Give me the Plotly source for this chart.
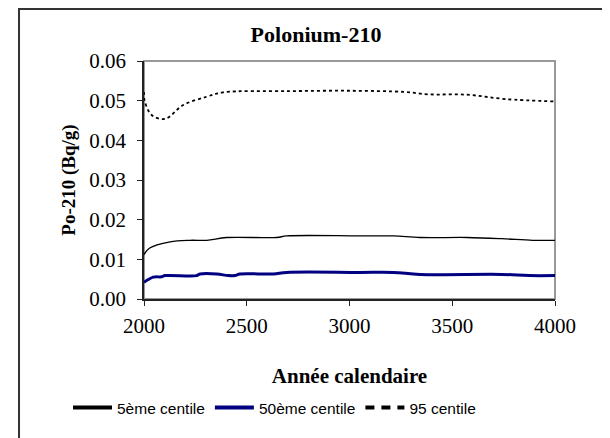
import plotly.graph_objects as go

# ── Data ──────────────────────────────────────────────────────────────────────
YEARS_P5 = [2000, 2026, 2127, 2224, 2305, 2402, 2646, 2694, 3051, 3213, 3343,
            3571, 3741, 3892, 4000]
P5 = [0.0112, 0.0128, 0.0144, 0.0148, 0.0148, 0.0155, 0.0155, 0.0159, 0.0159,
      0.0159, 0.0155, 0.0155, 0.0152, 0.0148, 0.0148]

YEARS_P50 = [2000, 2045, 2086, 2102, 2256, 2272, 2354, 2410, 2443, 2467, 2629,
             2694, 3051, 3213, 3343, 3741, 3873, 4000]
P50 = [0.0042, 0.0055, 0.0056, 0.0059, 0.0059, 0.0063, 0.0063, 0.0059, 0.0059,
       0.0063, 0.0063, 0.0067, 0.0067, 0.0067, 0.0062, 0.0062, 0.0059, 0.0059]

YEARS_P95 = [2000, 2003, 2037, 2102, 2191, 2305, 2385, 2700, 3002, 3269, 3382,
             3571, 3760, 4000]
P95 = [0.0522, 0.0500, 0.0464, 0.0454, 0.0489, 0.0510, 0.0521, 0.0524, 0.0525,
       0.0522, 0.0516, 0.0515, 0.0504, 0.0498]

NAMES = ['5ème centile', '50ème centile', '95 centile']
X_TICKS = [2000, 2500, 3000, 3500, 4000]
Y_TICKS = [0.00, 0.01, 0.02, 0.03, 0.04, 0.05, 0.06]

SERIF = 'Liberation Serif'
SANS = 'Liberation Sans'
NAVY = '#000080'

fig = go.Figure()

series = [
    (YEARS_P5, P5, NAMES[0], dict(color='black', width=1.3)),
    (YEARS_P50, P50, NAMES[1], dict(color=NAVY, width=3)),
    (YEARS_P95, P95, NAMES[2], dict(color='black', width=1.8, dash='3px,3px')),
]
for xs, ys, name, line in series:
    fig.add_trace(go.Scatter(x=xs, y=ys, mode='lines', name=name, line=line,
                             line_shape='spline', legendgroup=name,
                             showlegend=False))

# legend entries drawn with the thicker Excel-style swatches
legend_lines = [dict(color='black', width=4), dict(color=NAVY, width=4),
                dict(color='black', width=4, dash='9px,7px')]
for name, line in zip(NAMES, legend_lines):
    fig.add_trace(go.Scatter(x=[None], y=[None], mode='lines', name=name,
                             line=line, legendgroup=name))

# chart-area frame (left/top visible) and grey plot-area border
fig.add_shape(type='rect', xref='paper', yref='paper',
              x0=-0.3041, x1=1.2, y0=-0.7, y1=1.2185,
              line=dict(color='#333333', width=2), layer='below')
fig.add_shape(type='rect', xref='paper', yref='paper',
              x0=0, x1=1, y0=0, y1=1,
              line=dict(color='#999999', width=2), layer='below')

fig.update_layout(
    width=610, height=438,
    margin=dict(l=136, r=63, t=53, b=147, autoexpand=False),
    paper_bgcolor='white', plot_bgcolor='white',
    font=dict(family=SERIF, color='black'),
    title=dict(text='<b>Polonium-210</b>', xref='container', yref='container',
               x=308 / 610, y=1 - 26 / 438, xanchor='center', yanchor='middle',
               font=dict(family=SERIF, size=22, color='black')),
    legend=dict(orientation='h', xref='paper', yref='paper',
                x=-76 / 411, y=-109 / 238, xanchor='left', yanchor='middle',
                font=dict(family=SANS, size=15.5, color='black'),
                itemwidth=39, tracegroupgap=0,
                bgcolor='rgba(0,0,0,0)'),
    xaxis=dict(range=[2000, 4000], tickvals=X_TICKS, showgrid=False,
               zeroline=False, showline=True, linecolor='#222222', linewidth=1.5,
               ticks='outside', ticklen=5, tickcolor='#222222',
               ticklabelstandoff=2,
               tickfont=dict(family=SERIF, size=21, color='black'),
               title=dict(text='<b>Année calendaire</b>', standoff=31,
                          font=dict(family=SERIF, size=21, color='black'))),
    yaxis=dict(range=[0, 0.06], tickvals=Y_TICKS, tickformat='.2f',
               showgrid=False, zeroline=False, showline=True,
               linecolor='#222222', linewidth=1.5,
               ticks='outside', ticklen=5, tickcolor='#222222',
               ticklabelstandoff=7,
               tickfont=dict(family=SERIF, size=21, color='black'),
               title=dict(text='<b>Po-210 (Bq/g)</b>', standoff=9,
                          font=dict(family=SERIF, size=19, color='black'))),
)

fig.write_html('out.html')
